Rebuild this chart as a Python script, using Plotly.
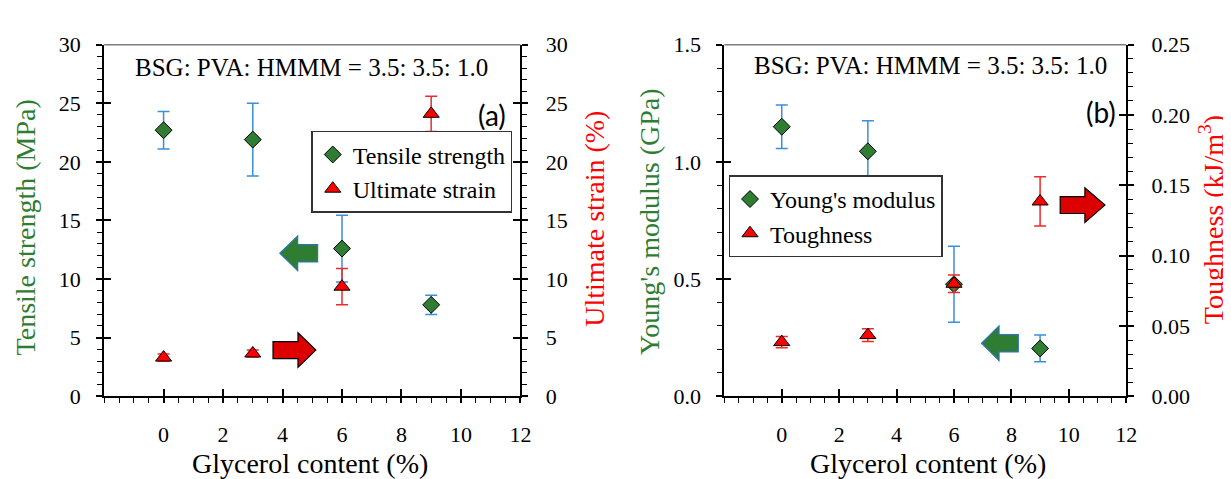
import plotly.graph_objects as go

# ---------------- data ----------------
glycerol = [0, 3, 6, 9]

tensile_strength = [22.7, 21.9, 12.6, 7.8]       # MPa
tensile_err = [1.6, 3.1, 2.85, 0.82]
ultimate_strain = [3.3, 3.65, 9.35, 24.1]        # %
strain_err = [0.3, 0.3, 1.55, 1.5]

youngs_modulus = [1.15, 1.045, 0.478, 0.204]     # GPa
modulus_err = [0.093, 0.13, 0.162, 0.057]
toughness = [0.0385, 0.0435, 0.080, 0.1385]      # kJ/m3
toughness_err = [0.004, 0.0045, 0.0063, 0.0175]

x_ticks = [0, 2, 4, 6, 8, 10, 12]

# ---------------- style ----------------
W, H = 1231, 479
SERIF = "Liberation Serif, Times New Roman, Times, serif"
SANS = "Lato, Carlito, Open Sans, sans-serif"
GREEN = "#2E7D32"
RED = "#FF0000"
EBLUE = "#3A8FD9"
ERED = "#EE2A2A"
CLEAR = "rgba(0,0,0,0)"


def px(v):
    return v / W


def py(v):
    return 1 - v / H


YDOM = [py(397), py(26)]
XDOM_A = [px(97), px(517)]
XDOM_B = [px(722.8), px(1128.3)]

fig = go.Figure()

# panel (a)
fig.add_trace(go.Scatter(
    x=glycerol, y=tensile_strength, mode="markers", name="Tensile strength",
    marker=dict(symbol="diamond", size=13, color=GREEN, line=dict(color="black", width=1)),
    error_y=dict(type="data", array=tensile_err, color=EBLUE, thickness=1.5, width=6),
    xaxis="x", yaxis="y", legend="legend", legendgroup="a1"))
fig.add_trace(go.Scatter(
    x=glycerol, y=ultimate_strain, mode="markers", name="Ultimate strain",
    marker=dict(symbol="triangle-up", size=14, color=RED, line=dict(color="black", width=1)),
    error_y=dict(type="data", array=strain_err, color=ERED, thickness=1.5, width=6),
    xaxis="x", yaxis="y2", legend="legend", legendgroup="a2"))

# panel (b)
fig.add_trace(go.Scatter(
    x=glycerol, y=youngs_modulus, mode="markers", name="Young's modulus",
    marker=dict(symbol="diamond", size=13, color=GREEN, line=dict(color="black", width=1)),
    error_y=dict(type="data", array=modulus_err, color=EBLUE, thickness=1.5, width=6),
    xaxis="x2", yaxis="y3", legend="legend2", legendgroup="b1"))
fig.add_trace(go.Scatter(
    x=glycerol, y=toughness, mode="markers", name="Toughness",
    marker=dict(symbol="triangle-up", size=14, color=RED, line=dict(color="black", width=1)),
    error_y=dict(type="data", array=toughness_err, color=ERED, thickness=1.5, width=6),
    xaxis="x2", yaxis="y4", legend="legend2", legendgroup="b2"))

# empty traces so the tick-only overlay axes are drawn
for xa, ya in [("x3", "y5"), ("x", "y6"), ("x4", "y7"), ("x2", "y8"),
               ("x5", "y"), ("x6", "y3")]:
    fig.add_trace(go.Scatter(x=[], y=[], xaxis=xa, yaxis=ya, showlegend=False, hoverinfo="skip"))

tickfont = dict(family=SERIF, size=22, color="black")


def minor(dt):
    return dict(ticks="outside", ticklen=5, tickwidth=1.2, tickcolor="black",
                tickmode="linear", tick0=0, dtick=dt)


def main_axis(rng, dom=None, **kw):
    d = dict(range=rng, showgrid=False, zeroline=False, showline=True, linecolor="black",
             linewidth=2, ticks="outside", ticklen=6, tickwidth=1.5, tickcolor="black",
             tickfont=tickfont, fixedrange=True)
    if dom is not None:
        d["domain"] = dom
    d.update(kw)
    return d


def tick_axis(rng, ticks="inside", ticklen=7, **kw):
    d = dict(range=rng, showgrid=False, zeroline=False, showline=False, ticks=ticks,
             ticklen=ticklen, tickwidth=1.5, tickcolor="black", showticklabels=False,
             fixedrange=True)
    d.update(kw)
    return d


xr = [-2, 12]
fig.update_layout(
    # x axes: labels pushed down by a long transparent tick; visible ticks on overlays
    xaxis=main_axis(xr, XDOM_A, anchor="y", tickmode="array", tickvals=x_ticks,
                    ticklen=17, tickcolor=CLEAR, minor=minor(0.5)),
    yaxis=main_axis([0, 30], YDOM, anchor="x", tickmode="linear", tick0=0, dtick=5,
                    ticklabelstandoff=11, minor=minor(1)),
    yaxis2=main_axis([0, 30], None, anchor="x", overlaying="y", side="right",
                     tickmode="linear", tick0=0, dtick=5, ticklabelstandoff=13,
                     minor=minor(1)),
    xaxis2=main_axis(xr, XDOM_B, anchor="y3", tickmode="array", tickvals=x_ticks,
                     ticklen=17, tickcolor=CLEAR, minor=minor(0.5)),
    yaxis3=main_axis([0, 1.5], YDOM, anchor="x2", tickmode="linear", tick0=0, dtick=0.5,
                     tickformat=".1f", ticklabelstandoff=11, minor=minor(0.1)),
    yaxis4=main_axis([0, 0.25], None, anchor="x2", overlaying="y3", side="right",
                     tickmode="linear", tick0=0, dtick=0.05, tickformat=".2f",
                     ticklabelstandoff=13, minor=minor(0.01)),
    # inside halves of the crossing major ticks
    xaxis3=tick_axis(xr, overlaying="x", anchor="y", side="bottom",
                     tickmode="array", tickvals=x_ticks),
    xaxis4=tick_axis(xr, overlaying="x2", anchor="y3", side="bottom",
                     tickmode="array", tickvals=x_ticks),
    # outside halves of the x major ticks
    xaxis5=tick_axis(xr, ticks="outside", ticklen=6, overlaying="x", anchor="y",
                     side="bottom", tickmode="array", tickvals=x_ticks),
    xaxis6=tick_axis(xr, ticks="outside", ticklen=6, overlaying="x2", anchor="y3",
                     side="bottom", tickmode="array", tickvals=x_ticks),
    yaxis5=tick_axis([0, 30], overlaying="y", anchor="x", side="left",
                     tickmode="linear", tick0=0, dtick=5),
    yaxis6=tick_axis([0, 30], overlaying="y", anchor="x", side="right",
                     tickmode="linear", tick0=0, dtick=5),
    yaxis7=tick_axis([0, 1.5], overlaying="y3", anchor="x2", side="left",
                     tickmode="linear", tick0=0, dtick=0.5),
    yaxis8=tick_axis([0, 0.25], overlaying="y3", anchor="x2", side="right",
                     tickmode="linear", tick0=0, dtick=0.05),
)

legend_style = dict(font=dict(family=SERIF, size=24, color="black"), bgcolor="white",
                    bordercolor="#333333", borderwidth=1.5, xanchor="left", yanchor="top",
                    tracegroupgap=0, itemwidth=30)
fig.update_layout(
    legend=dict(x=px(306), y=py(117), **legend_style),
    legend2=dict(x=px(727), y=py(164), **legend_style),
)


# ---------------- arrows (block arrows, in data units) ----------------
def arrow_path(tail, base, tip, yc, shaft, head):
    return (f"M {tail},{yc - shaft} L {base},{yc - shaft} L {base},{yc - head} "
            f"L {tip},{yc} L {base},{yc + head} L {base},{yc + shaft} L {tail},{yc + shaft} Z")


arrows = [
    # (xref, yref, tail, head-base, tip, y-centre, shaft half, head half, fill, outline)
    ("x", "y", 5.18, 4.51, 3.91, 12.2, 0.74, 1.48, GREEN, "#2E75B6"),
    ("x", "y", 3.68, 4.52, 5.12, 3.94, 0.73, 1.48, "#DD0000", "black"),
    ("x2", "y3", 8.24, 7.57, 6.96, 0.2264, 0.037, 0.074, GREEN, "#2E75B6"),
    ("x2", "y3", 9.70, 10.56, 11.26, 0.8156, 0.036, 0.074, "#DD0000", "black"),
]
shapes = []
for xref, yref, tail, base, tip, yc, sh, hd, fill, line in arrows:
    shapes.append(dict(type="path", xref=xref, yref=yref,
                       path=arrow_path(tail, base, tip, yc, sh, hd),
                       fillcolor=fill, line=dict(color=line, width=1.2), layer="above"))
# top frame line of each plot area
for xa, ya in [("x", "y"), ("x2", "y3")]:
    shapes.append(dict(type="line", xref=f"{xa} domain", yref=f"{ya} domain",
                       x0=0, x1=1, y0=1, y1=1, line=dict(color="#7F7F7F", width=1.5)))
fig.update_layout(shapes=shapes)

# ---------------- text ----------------
ratio_text = "BSG: PVA: HMMM = 3.5: 3.5: 1.0"
ann = []


def add_text(text, x, y, size, color="black", family=SERIF, angle=0, xanchor="center"):
    ann.append(dict(text=text, x=x, y=y, xref="paper", yref="paper", showarrow=False,
                    textangle=angle, xanchor=xanchor, yanchor="middle",
                    font=dict(family=family, size=size, color=color)))


add_text(ratio_text, px(306), py(50), 25)
add_text(ratio_text, px(931), py(48), 25)
add_text("(a)", px(505), py(100), 28, family=SANS, xanchor="right")
add_text("(b)", px(1120), py(97), 28, family=SANS, xanchor="right")
add_text("Tensile strength (MPa)", px(18), py(219), 28, GREEN, angle=-90)
add_text("Ultimate strain (%)", px(591), py(210), 28, RED, angle=-90)
add_text("Glycerol content (%)", px(305), py(468), 28)
add_text("Young's modulus (GPa)", px(648), py(213), 28, GREEN, angle=-90)
add_text("Toughness (kJ/m<sup>3</sup>)", px(1215), py(211), 28, RED, angle=-90)
add_text("Glycerol content (%)", px(928), py(468), 28)
fig.update_layout(annotations=ann)

fig.update_layout(width=W, height=H, margin=dict(l=0, r=0, t=0, b=0),
                  paper_bgcolor="white", plot_bgcolor="white",
                  font=dict(family=SERIF))

fig.write_html("out.html")
